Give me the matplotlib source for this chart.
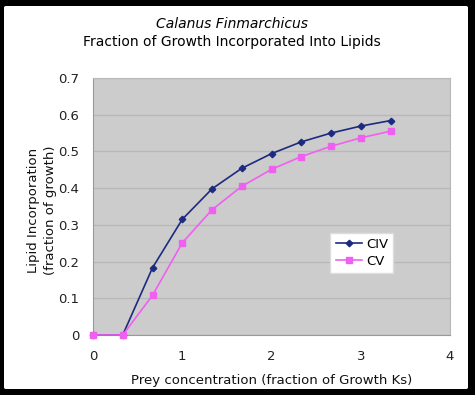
import matplotlib
matplotlib.use("Agg")
import matplotlib.pyplot as plt
from matplotlib.patches import FancyBboxPatch

x = [0, 1/3, 2/3, 1, 4/3, 5/3, 2, 7/3, 8/3, 3, 10/3]
civ = [0, 0, 0.183, 0.315, 0.398, 0.454, 0.494, 0.526, 0.550, 0.569, 0.584]
cv = [0, 0, 0.108, 0.251, 0.341, 0.405, 0.451, 0.486, 0.514, 0.537, 0.555]
xticks = [0, 1, 2, 3, 4]
yticks = [0, 0.1, 0.2, 0.3, 0.4, 0.5, 0.6, 0.7]
ytick_labels = ["0", "0.1", "0.2", "0.3", "0.4", "0.5", "0.6", "0.7"]

plt.rcParams['font.family'] = ['DejaVu Sans']
W, H = 475, 395
fig = plt.figure(figsize=(4.75, 3.95), dpi=100, facecolor='black')
frame = FancyBboxPatch((4 / W, 6 / H), (468 - 4) / W, (389 - 6) / H,
                       boxstyle="round,pad=0,rounding_size=0.004",
                       transform=fig.transFigure, facecolor='white',
                       edgecolor='none', zorder=-10)
fig.patches.append(frame)

ax = fig.add_axes([93 / W, (H - 335) / H, (450 - 93) / W, (335 - 78) / H])
ax.set_facecolor('#CCCCCC')
ax.plot(x, civ, color='#1C2A80', marker='D', markersize=3.3, lw=1.2, label='CIV', clip_on=False, zorder=3)
ax.plot(x, cv, color='#F060F0', marker='s', markersize=4, lw=1.2, label='CV', clip_on=False, zorder=3)
ax.set_xlim(0, 4)
ax.set_ylim(0, 0.7)
ax.set_xticks(xticks)
ax.set_xticklabels([str(t) for t in xticks])
ax.set_yticks(yticks)
ax.set_yticklabels(ytick_labels)
ax.grid(axis='y', color='#B8B8B8', lw=1)
ax.set_axisbelow(True)
for s in ['top', 'right']:
    ax.spines[s].set_color('#B8B8B8')
for s in ['left', 'bottom']:
    ax.spines[s].set_color('#999999')
ax.tick_params(axis='both', length=0, labelsize=9.5, colors='#222222')
ax.tick_params(axis='y', pad=10)
ax.tick_params(axis='x', pad=11)

ax.set_xlabel('Prey concentration (fraction of Growth Ks)', fontsize=9.5, labelpad=8, color='#111111')
fig.text(42 / W, 1 - 210 / H, 'Lipid Incorporation\n(fraction of growth)', rotation=90,
         ha='center', va='center', fontsize=9.5, color='#111111', linespacing=1.35)

fig.text(232 / W, 1 - 24 / H, 'Calanus Finmarchicus', style='italic', ha='center', va='center', fontsize=10)
fig.text(232 / W, 1 - 42 / H, 'Fraction of Growth Incorporated Into Lipids', ha='center', va='center', fontsize=10)

leg = ax.legend(loc='lower left', bbox_to_anchor=(0.665, 0.24), frameon=True, fancybox=False,
                fontsize=9.5, handlelength=2.0, handletextpad=0.3, borderpad=0.4,
                labelspacing=0.3, borderaxespad=0)
leg.get_frame().set_facecolor('white')
leg.get_frame().set_edgecolor('#DDDDDD')
leg.get_frame().set_alpha(1)

fig.savefig('out.png', dpi=100, facecolor='black')
